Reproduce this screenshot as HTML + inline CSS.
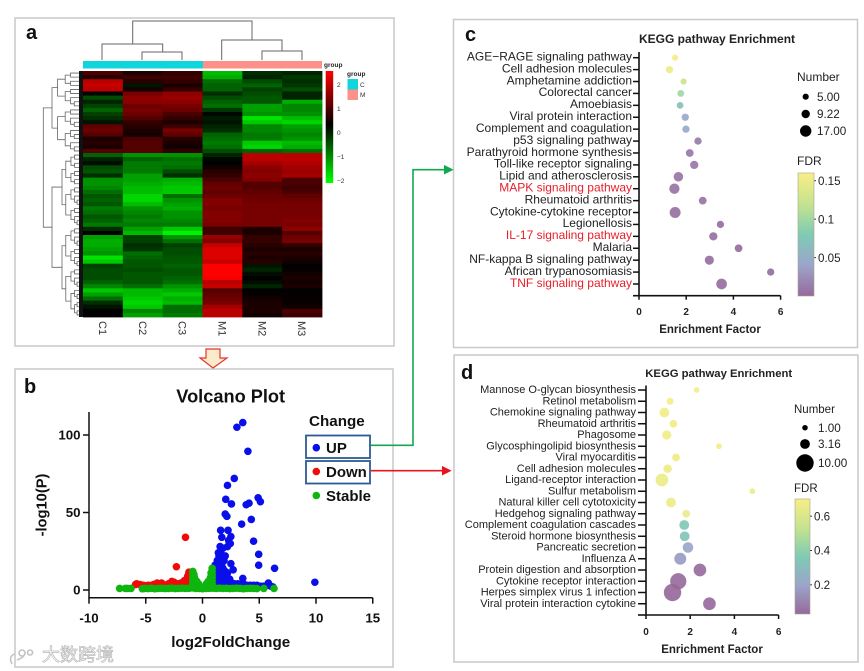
<!DOCTYPE html>
<html lang="en">
<head>
<meta charset="utf-8">
<title>Transcriptome figure</title>
<style>
html,body{margin:0;padding:0;background:#fff}
svg{display:block;font-family:"Liberation Sans","Noto Sans CJK SC",sans-serif;filter:blur(0.35px)}
</style>
</head>
<body>
<svg id="fig" xmlns="http://www.w3.org/2000/svg" width="864" height="671" viewBox="0 0 864 671">
  <defs id="defs">
    <linearGradient id="heatGrad" x1="0" y1="1" x2="0" y2="0">
      <stop offset="0" stop-color="#00ff00"/><stop offset="0.52" stop-color="#000"/><stop offset="1" stop-color="#ff0000"/>
    </linearGradient>
    <linearGradient id="fdrGrad" x1="0" y1="1" x2="0" y2="0">
      <stop offset="0" stop-color="#97699b"/><stop offset="0.25" stop-color="#9aa5cb"/><stop offset="0.5" stop-color="#7fcbb4"/><stop offset="0.75" stop-color="#c5e38f"/><stop offset="1" stop-color="#f8ee86"/>
    </linearGradient>
    <marker id="ag" markerWidth="7" markerHeight="7" refX="5" refY="3" orient="auto"><path d="M0,0L6,3L0,6z" fill="#12a84f"/></marker>
    <marker id="ar" markerWidth="7" markerHeight="7" refX="5" refY="3" orient="auto"><path d="M0,0L6,3L0,6z" fill="#e8141c"/></marker>
  </defs>
  <rect width="864" height="671" fill="#fff"/>
  <g fill="none" stroke="#c9c9c9" stroke-width="1.5">
    <rect x="15" y="18" width="379" height="328"/>
    <rect x="15" y="369" width="378" height="298"/>
    <rect x="453.5" y="19.5" width="404" height="328"/>
    <rect x="454" y="355" width="404" height="307"/>
  </g>
  <g font-weight="bold" fill="#111" font-size="20">
    <text x="26" y="39">a</text>
    <text x="24" y="393">b</text>
    <text x="465" y="41">c</text>
    <text x="461" y="379">d</text>
  </g>

  <!-- panel a static parts -->
  <g id="heatmap"></g>
  <g id="rowDendro" fill="none" stroke="#666" stroke-width="0.8"></g>
  <path fill="none" stroke="#666" stroke-width="1" d="M132.7,44V21H252V40M102,60V44H162.7V52M142,60V52H182V60M221.7,60V40H282V51M262,60V51H302V60"/>
  <rect x="83" y="61" width="120" height="7.5" fill="#0fd5dc"/>
  <rect x="203" y="61" width="119" height="7.5" fill="#fb9189"/>
  <text x="324" y="67" font-size="6.5" font-weight="bold" fill="#222">group</text>
  <rect x="325.7" y="71" width="7.5" height="112" fill="url(#heatGrad)"/>
  <g id="heatTicks" font-size="6.5" fill="#333"></g>
  <g>
    <text x="347" y="76" font-size="6.5" font-weight="bold" fill="#222">group</text>
    <rect x="347.5" y="79" width="10.5" height="10.5" fill="#0fd5dc"/>
    <rect x="347.5" y="89.5" width="10.5" height="10.5" fill="#fb9189"/>
    <text x="360" y="87" font-size="6.5" fill="#333">C</text>
    <text x="360" y="97" font-size="6.5" fill="#333">M</text>
  </g>
  <g id="heatCols" font-size="11" fill="#333"></g>

  <path d="M206,349H220V358H227L213,368L200,358H206Z" fill="#fdeacb" stroke="#e2352a" stroke-width="1.2"/>
  <path d="M371,445.3H413V169.7H452" fill="none" stroke="#12a84f" stroke-width="1.6" marker-end="url(#ag)"/>
  <path d="M371,470.7H450" fill="none" stroke="#e8141c" stroke-width="1.6" marker-end="url(#ar)"/>

  <!-- panel b -->
  <g id="volcano"></g>
  <text x="230.7" y="402.5" font-size="18.2" font-weight="bold" text-anchor="middle" fill="#111">Volcano Plot</text>
  <text x="230.7" y="647" font-size="15.2" font-weight="bold" text-anchor="middle" fill="#111">log2FoldChange</text>
  <text transform="translate(46.5,505) rotate(-90)" font-size="14.7" font-weight="bold" text-anchor="middle" fill="#111">-log10(P)</text>
  <g font-weight="bold" fill="#111">
    <text x="309" y="426" font-size="15.2">Change</text>
    <rect x="306" y="435.5" width="64" height="22.5" fill="none" stroke="#2d5a94" stroke-width="1.8"/>
    <rect x="306" y="461" width="64" height="22.5" fill="none" stroke="#2d5a94" stroke-width="1.8"/>
    <circle cx="316.3" cy="447.7" r="3.8" fill="#0a0ee8"/>
    <circle cx="316.3" cy="471.5" r="3.8" fill="#f00a0a"/>
    <circle cx="316.3" cy="495.5" r="3.8" fill="#0eb50e"/>
    <text x="326" y="453" font-size="15">UP</text>
    <text x="326" y="477" font-size="15">Down</text>
    <text x="326" y="501" font-size="15">Stable</text>
  </g>

  <!-- panel c -->
  <text x="717" y="43" font-size="12" font-weight="bold" text-anchor="middle" fill="#222">KEGG pathway Enrichment</text>
  <text x="710" y="333" font-size="11.5" font-weight="bold" text-anchor="middle" fill="#222">Enrichment Factor</text>
  <g id="chartC"></g>
  <text x="797" y="81" font-size="12" fill="#222">Number</text>
  <text x="797" y="165" font-size="12" fill="#222">FDR</text>
  <rect x="798" y="173" width="16" height="123" fill="url(#fdrGrad)" stroke="#a9a48a" stroke-width="0.6"/>

  <!-- panel d -->
  <text x="718.7" y="377" font-size="11.3" font-weight="bold" text-anchor="middle" fill="#222">KEGG pathway Enrichment</text>
  <text x="712" y="653" font-size="11.5" font-weight="bold" text-anchor="middle" fill="#222">Enrichment Factor</text>
  <g id="chartD"></g>
  <text x="794" y="413" font-size="11.5" fill="#222">Number</text>
  <text x="794" y="492" font-size="11.5" fill="#222">FDR</text>
  <rect x="795" y="499" width="15" height="115" fill="url(#fdrGrad)" stroke="#a9a48a" stroke-width="0.6"/>

  <!-- watermark -->
  <g>
    <path d="M12,664q-4,-8 3,-10M22,650a3,3 0 1,0 .1,0M30,650a2.5,2.5 0 1,0 .1,0M17,660q6,-2 8,-6" fill="none" stroke="#c4c4c4" stroke-width="1.6"/>
    <text x="42" y="661" font-size="18" fill="#fff" stroke="#b8b8b8" stroke-width="0.7" font-family="'Liberation Sans','Noto Sans CJK SC',sans-serif">大数跨境</text>
  </g>
</svg>

<script>
/* ---------- heatmap data ---------- */
const heatSamples = ['C1','C2','C3','M1','M2','M3'];
const heatTickValues = [2,1,0,-1,-2];
const heatRows = [
[.9,.5,.7,-1.6,-.4,-.3],[.6,.8,.8,-1.5,-.3,-.5],[1.9,.6,.7,-1,-.7,-.4],[2,-.1,.5,-.9,-.9,-.5],[1.9,.4,.7,-.9,-.6,-.7],
[.1,1.3,1.5,-.4,-.7,-.3],[-.7,1.5,1.6,-.7,-.8,-.3],[-.3,1.5,1.5,-.9,-.8,-1.5],[-.6,1.2,1.3,-1,-1.4,-1.2],[-.9,1.3,1.2,-.5,-1.4,-1.2],
[-.6,1.2,.9,.1,-1.3,-1.3],[-.4,1,.7,-.2,-1.9,-1.6],[-.1,.7,.5,-.1,-1.7,-1.8],[1.1,.6,.8,-.3,-1.2,-1.4],[1.2,.5,1.3,-.4,-1.2,-1.3],
[1,.4,1.1,-.9,-1.1,-1.2],[.5,.9,.6,-1,-1.1,-1.3],[.6,1,.5,-1.1,-1.7,-1.6],[.5,1,.4,-1,-1.8,-1.5],[1,1,.7,-.7,-.9,-1],
[-.9,-1.3,-1.3,-.3,1.9,1.9],[-.3,-.9,-1,.1,1.9,1.9],[0,-1.1,-1.1,.2,1.7,1.8],[-.7,-1.1,-1,.4,1.5,1.7],[-.8,-1.1,-.7,.6,1.4,1.6],
[-.4,-1.4,-.4,.7,1.5,1.7],[-1.3,-1.4,-1.5,.9,1.4,.9],[-1.3,-1.5,-1.6,1.1,1,.9],[-1.2,-1.6,-1.7,1.2,1,.8],[-1,-1.6,-1.7,1.1,1.1,.9],
[-.8,-1.8,-1,1.2,1.2,1.1],[-.9,-1.8,-1.3,1.4,1.2,1.2],[-.8,-1.6,-1.4,1.4,1.3,1.3],[-1.1,-1.3,-1.5,1.3,1.3,1.3],[-1,-1.2,-1.3,1.4,1.3,1.3],
[-.8,-1.1,-1.3,1.4,1.3,1.3],[-.9,-1.2,-1.2,1.4,1.3,1.4],[-1.1,-1.1,-1.1,1.3,1.3,1.3],[-.4,-1.4,-1.7,.8,.5,1.5],[.2,-1.6,-2,.8,.5,1],
[-1.4,-.6,-1.3,1.6,.7,1.2],[-1.5,-.6,-1,1.4,.7,1.3],[-1.5,-.4,-.6,2,.6,.7],[-1.4,-.5,-.7,2.2,.5,.5],[-1.3,-1,-.7,2.2,.6,.6],
[-1.9,-.9,-.8,2.2,.5,.5],[-1.7,-.8,-.8,2,.6,.4],[-.6,-.8,-.9,2.5,-.1,.2],[-.7,-.7,-.8,2.5,-.3,.3],[-.7,-.8,-.8,2.5,0,.4],
[-.7,-.8,-.9,2.4,.2,.5],[-.9,-.8,-1,1.9,0,.4],[-1.2,-1,-1.3,2,-.3,.5],[-1.7,-1.6,-1.5,1,.2,.2],[-1.4,-1.6,-1.7,1.1,.3,.3],
[-1,-1.7,-1.5,1.2,.4,.3],[-.4,-1.8,-1.6,1.3,.5,.3],[-.1,-1.7,-1,1.7,.5,.4],[.2,-1.2,-1,1.9,.5,.9],[.2,-1.4,-1.1,1.9,.4,.8]
];

/* ---------- volcano data ---------- */
const volcanoXTicks = [-10,-5,0,5,10,15];
const volcanoYTicks = [0,50,100];
const upPoints = [[3.55,108],[3.03,105],[4,89.5],[2.8,72],[2.2,67.5],[2.05,58.5],[2.55,55.5],[3.85,55],[4.1,56],[4.9,59.5],[5.1,57],[2,49],[2.15,47.5],[4.3,45.5],[3.45,42.5],[1.6,38.5],[2.25,38.5],[1.7,34],[2.5,34.5],[2.3,32],[4.5,31.5],[2.45,30],[2.2,28],[1.55,28],[1.8,27],[4.95,23],[2,22],[1.45,22],[1.3,19],[1.9,19],[2.5,17],[4.95,16],[2.7,13],[6.35,14],[3.55,7.5],[5.8,4.5],[9.9,5],
[1.1,16],[1.3,15],[1.5,16],[1.7,17],[1.4,24],[1.6,25],[1.7,21],[1.2,13],[1.4,12],[1.6,13],[1.8,14],[2,12],[2.2,11],[1.05,10],[1.3,9],[1.5,9],[1.7,10],[1.9,9],[2.1,8],[2.4,7],[1.2,6],[1.4,6],[1.6,6],[1.8,6],[2,5],[2.2,5],[2.5,5],[2.8,4],[3.1,4],[1.1,4],[1.3,3.5],[1.5,3.5],[1.7,3.5],[1.9,3],[2.1,3],[2.4,3],[2.7,3],[3,3],[3.3,3.5],[3.6,4],[3.9,3],[4.2,3],[4.5,3],[4.8,3],[5.1,2.5],[5.4,2.5],[5.7,3],[6,2.5],[6.2,2]
];
const downPoints = [[-1.5,34],[-2.3,15],[-1.2,11.5],[-1.1,10.5],[-1.3,9],[-1,9],[-1.4,7],[-1.1,7],[-1.6,6],[-1.2,5.5],[-1,5],[-1.9,4.5],[-2.5,5],[-2.7,5.5],[-2.2,4],[-3,4],[-3.6,4.5],[-4,4.5],[-4.3,3.5],[-3.3,3],[-4.8,3],[-5.2,3],[-5.8,4],[-5.9,3.5],[-5.5,3.5],[-1.7,3.5],[-2,3],[-1.3,4],[-1,3.5],[-1.2,3],[-2.8,3],[-3.8,3],[-4.5,3]];
const stablePoints = [[-7.3,1],[-6.8,1],[-6.6,1],[-6.3,1],[-5.3,.8],[-5.1,1],[-4.8,.9],[-4.5,1.1],[-4.2,.8],[-3.9,1],[-3.6,1.1],[-3.3,.9],[-3,1],[-2.7,1.2],[-2.4,.9],[-2.1,1],[-1.8,1.2],[-1.5,1],[-1.2,1.1],[-.9,1.3],[-.6,1],[-.3,1],[0,.8],[.3,1],[.6,1.1],[.9,1.2],[1.2,1],[1.5,1.2],[1.8,1],[2.1,1.1],[2.4,.9],[2.7,1],[3,1.2],[3.3,1],[3.6,.8],[3.9,1],[4.2,1.1],[4.5,1],[4.8,.9],[5.4,1],[6.3,1],
[-.85,12],[-.85,10],[-.85,8],[-.85,6],[-.85,4],[-.85,2.5],[-.75,10],[-.7,8],[-.65,6],[-.6,4],[-.5,5.5],[-.45,3.5],[-.35,4],[-.25,2.5],[-.15,2],
[.85,14],[.85,12],[.85,10],[.85,8],[.85,6],[.85,4],[.85,2.5],[.75,11],[.7,8],[.65,6],[.6,4],[.5,5.5],[.45,3.5],[.35,4],[.25,2.5],[.15,2]];

/* ---------- KEGG chart c data ---------- */
const cPathways = ['AGE\u2212RAGE signaling pathway','Cell adhesion molecules','Amphetamine addiction','Colorectal cancer','Amoebiasis','Viral protein interaction','Complement and coagulation','p53 signaling pathway','Parathyroid hormone synthesis','Toll-like receptor signaling','Lipid and atherosclerosis','MAPK signaling pathway','Rheumatoid arthritis','Cytokine-cytokine receptor','Legionellosis','IL-17 signaling pathway','Malaria','NF-kappa B signaling pathway','African trypanosomiasis','TNF signaling pathway'];
const cHighlighted = ['MAPK signaling pathway','IL-17 signaling pathway','TNF signaling pathway'];
const cFactor = [1.53,1.29,1.89,1.77,1.74,1.96,1.99,2.5,2.15,2.34,1.67,1.5,2.7,1.53,3.45,3.15,4.22,2.98,5.58,3.5];
const cNumber = [5,7,5,6,6,7,7,7,8,9,12,14,8,16,7,9,8,11,7,15];
const cFdr = [.158,.152,.125,.1,.07,.045,.045,.012,.01,.01,.008,.007,.007,.006,.005,.005,.004,.004,.004,.003];
const cXTicks = [0,2,4,6];
const cSizeLegend = [5,9.22,17];
const cSizeLabels = ['5.00','9.22','17.00'];
const cFdrTicks = [.15,.1,.05];

/* ---------- KEGG chart d data ---------- */
const dPathways = ['Mannose O-glycan biosynthesis','Retinol metabolism','Chemokine signaling pathway','Rheumatoid arthritis','Phagosome','Glycosphingolipid biosynthesis','Viral myocarditis','Cell adhesion molecules','Ligand-receptor interaction','Sulfur metabolism','Natural killer cell cytotoxicity','Hedgehog signaling pathway','Complement coagulation cascades','Steroid hormone biosynthesis','Pancreatic secretion','Influenza A','Protein digestion and absorption','Cytokine receptor interaction','Herpes simplex virus 1 infection','Viral protein interaction cytokine'];
const dFactor = [2.29,1.09,.83,1.24,.94,3.3,1.36,.98,.72,4.81,1.13,1.82,1.73,1.75,1.9,1.55,2.44,1.46,1.2,2.87];
const dNumber = [1.05,1.6,3.2,2,2.8,1.05,2,2.4,5.3,1.05,3.2,2,3.2,3.2,3.7,4.7,5.3,8.7,10,5.3];
const dFdr = [.69,.69,.68,.68,.68,.68,.67,.67,.66,.66,.66,.65,.35,.34,.2,.17,.04,.04,.03,.04];
const dXTicks = [0,2,4,6];
const dSizeLegend = [1,3.16,10];
const dSizeLabels = ['1.00','3.16','10.00'];
const dFdrTicks = [.6,.4,.2];

/* ---------- helpers ---------- */
const NS = 'http://www.w3.org/2000/svg';
function el(tag, attrs, parent, content){
  const n = document.createElementNS(NS, tag);
  for (const k in attrs) n.setAttribute(k, attrs[k]);
  if (content !== undefined) n.textContent = content;
  parent.appendChild(n);
  return n;
}
const mix = (a,b,t)=>a.map((v,i)=>Math.round(v+(b[i]-v)*t));
function heatColor(v){
  const mid = .25;
  const c = v < mid
    ? mix([0,0,0],[0,255,0],Math.pow(Math.min(1,(mid-v)/(mid+2.08)),1.35))
    : mix([0,0,0],[255,0,0],Math.min(1,(v-mid)/(2.5-mid)));
  return 'rgb('+c.join(',')+')';
}
const fdrStops = [[151,105,155],[154,165,203],[127,203,180],[197,227,143],[248,238,134]];
function fdrColor(t){
  t = Math.max(0,Math.min(.9999,t))*4;
  const i = Math.floor(t);
  return 'rgb('+mix(fdrStops[i],fdrStops[i+1],t-i).join(',')+')';
}

/* ---------- heatmap ---------- */
(function(){
  const g = document.getElementById('heatmap');
  const x0=83, cw=239/heatSamples.length, y0=71, rh=246/heatRows.length;
  heatRows.forEach((row,r)=>row.forEach((v,c)=>{
    const cell = el('rect',{x:x0+c*cw,y:y0+r*rh,width:cw+.4,height:rh+.4,fill:heatColor(v)},g);
    
    
  }));
  const cols = document.getElementById('heatCols');
  heatSamples.forEach((s,c)=>{
    const t = el('text',{transform:'translate('+(x0+(c+.5)*cw-4)+',321) rotate(90)'},cols,s);
    
    
  });
  const ticks = document.getElementById('heatTicks');
  heatTickValues.forEach(v=>{
    const label = v<0 ? '\u2212'+(-v) : String(v);
    const t = el('text',{x:337,y:133-v*24+2.2},ticks,label);
    
    
  });
  /* row dendrogram */
  const dg = document.getElementById('rowDendro');
  let d = '';
  function node(lo,hi,x,big){
    if (hi-lo===1) return y0+(lo+.5)*rh;
    const mid = lo+Math.max(1,Math.round((hi-lo)*.45));
    const nx = x+(83-x)*(big?.18:.3);
    const ya = node(lo,mid,nx,false), yb = node(mid,hi,nx,false);
    const la = mid-lo===1?83:nx, lb = hi-mid===1?83:nx;
    d += 'M'+la+','+ya+'H'+x+'V'+yb+'H'+lb;
    return (ya+yb)/2;
  }
  const topY = node(0,20,52,true), b1 = node(20,38,62,true), b2 = node(38,60,62,true);
  const botY = (b1+b2)/2;
  d += 'M62,'+b1+'H52V'+b2+'H62';
  d += 'M52,'+topY+'H43.3V'+botY+'H52';
  el('path',{d:d},dg);
  const strip = el('rect',{x:79,y:71,width:4,height:246,fill:'#111',stroke:'none'},dg);
  
  
})();

/* ---------- volcano ---------- */
(function(){
  const g = document.getElementById('volcano');
  const X = v=>202.5+v*11.35, Y = v=>590-v*1.55, axisY=597.7;
  el('path',{d:'M89,412V'+axisY+'H'+X(15),fill:'none',stroke:'#111','stroke-width':1.5},g);
  volcanoXTicks.forEach(v=>{
    const tk = el('line',{x1:X(v),x2:X(v),y1:axisY,y2:axisY+6,stroke:'#111','stroke-width':1.5},g);
    
    
    const t = el('text',{x:X(v),y:622.5,'font-size':13.3,'font-weight':'bold','text-anchor':'middle',fill:'#111'},g,String(v));
    
    
  });
  volcanoYTicks.forEach(v=>{
    const tk = el('line',{x1:83,x2:89,y1:Y(v),y2:Y(v),stroke:'#111','stroke-width':1.5},g);
    
    
    const t = el('text',{x:80.5,y:Y(v)+4.6,'font-size':13.3,'font-weight':'bold','text-anchor':'end',fill:'#111'},g,String(v));
    
    
  });
  upPoints.forEach(p=>{
    const c = el('circle',{cx:X(p[0]),cy:Y(p[1]),r:3.8,fill:'#0a0ee8'},g);
    
    
  });
  downPoints.forEach(p=>{
    const c = el('circle',{cx:X(p[0]),cy:Y(p[1]),r:3.8,fill:'#f00a0a'},g);
    
    
  });
  stablePoints.forEach(p=>{
    const c = el('circle',{cx:X(p[0]),cy:Y(p[1]),r:3.8,fill:'#0eb50e'},g);
    
    
  });
})();

/* ---------- bubble charts ---------- */
function bubble(cfg){
  const g = document.getElementById(cfg.id);
  const X = v=>cfg.x0+v*cfg.xk, Y = i=>cfg.y0+i*cfg.yk;
  el('path',{d:'M'+cfg.x0+','+cfg.axisTop+'V'+cfg.axisBottom+'H'+X(6),fill:'none',stroke:'#111','stroke-width':1.6},g);
  const lastTick = el('line',{x1:cfg.x0-cfg.tickLen,x2:cfg.x0,y1:cfg.axisBottom,y2:cfg.axisBottom,stroke:'#111','stroke-width':1.6},g);
  
  
  cfg.xTicks.forEach(v=>{
    const tk = el('line',{x1:X(v),x2:X(v),y1:cfg.axisBottom,y2:cfg.axisBottom+4,stroke:'#111','stroke-width':1.5},g);
    
    
    const t = el('text',{x:X(v),y:cfg.xLabelY,'font-size':10,'font-weight':'bold','text-anchor':'middle',fill:'#222'},g,String(v));
    
    
  });
  cfg.labels.forEach((name,i)=>{
    const tk = el('line',{x1:cfg.x0-cfg.tickLen,x2:cfg.x0,y1:Y(i),y2:Y(i),stroke:'#111','stroke-width':1.5},g);
    
    
    const hot = cfg.hot.indexOf(name)>=0;
    const t = el('text',{x:cfg.x0-cfg.labelGap,y:Y(i)+cfg.labelDy,'font-size':cfg.fs,'text-anchor':'end',fill:hot?'#e8202a':'#222'},g,name);
    
    
    const c = el('circle',{cx:X(cfg.factor[i]),cy:Y(i),r:cfg.rk*Math.sqrt(cfg.number[i]),fill:fdrColor((cfg.fdr[i]-cfg.fMin)/(cfg.fMax-cfg.fMin)),'fill-opacity':.92},g);
    
    
  });
  cfg.sizes.forEach((n,i)=>{
    const c = el('circle',{cx:cfg.legendX,cy:cfg.sizeY[i],r:cfg.rk*Math.sqrt(n),fill:'#000'},g);
    
    
    const t = el('text',{x:cfg.sizeTextX,y:cfg.sizeY[i]+4.2,'font-size':11.7,fill:'#222'},g,cfg.sizeLabels[i]);
    
    
  });
  cfg.fdrTicks.forEach(v=>{
    const y = cfg.barBottom-(v-cfg.fMin)/(cfg.fMax-cfg.fMin)*(cfg.barBottom-cfg.barTop);
    const tk = el('line',{x1:cfg.barRight-3,x2:cfg.barRight+2,y1:y,y2:y,stroke:'#333','stroke-width':1},g);
    
    
    const t = el('text',{x:cfg.barRight+4,y:y+4.2,'font-size':11.6,fill:'#222'},g,String(v));
    
    
  });
}
bubble({id:'chartC',x0:639,xk:23.6,y0:57.7,yk:11.91,axisTop:52,axisBottom:295.7,xLabelY:315,labelDy:2.8,fs:12,tickLen:6,labelGap:7,
  labels:cPathways,hot:cHighlighted,factor:cFactor,number:cNumber,fdr:cFdr,xTicks:cXTicks,rk:1.38,
  fMin:0,fMax:.16,sizes:cSizeLegend,sizeLabels:cSizeLabels,sizeY:[96.7,114,131],legendX:805.7,sizeTextX:817,
  fdrTicks:cFdrTicks,barTop:173,barBottom:296,barRight:814});
bubble({id:'chartD',x0:646,xk:22.1,y0:390,yk:11.25,axisTop:385.5,axisBottom:615,xLabelY:635,labelDy:3.2,fs:11,tickLen:8,labelGap:10,
  labels:dPathways,hot:[],factor:dFactor,number:dNumber,fdr:dFdr,xTicks:dXTicks,rk:2.75,
  fMin:.03,fMax:.7,sizes:dSizeLegend,sizeLabels:dSizeLabels,sizeY:[427.7,444,463],legendX:805,sizeTextX:818,
  fdrTicks:dFdrTicks,barTop:499,barBottom:614,barRight:810});
</script>
</body>
</html>
